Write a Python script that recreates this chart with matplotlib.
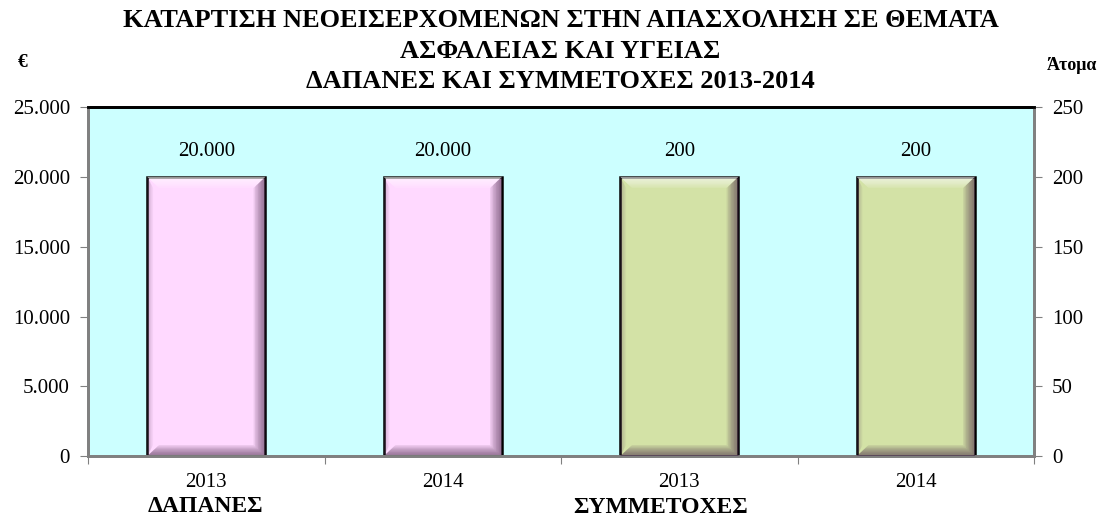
import matplotlib
matplotlib.use('Agg')
import matplotlib.pyplot as plt
from matplotlib.patches import Polygon

plt.rcParams['font.family'] = ['Liberation Serif', 'DejaVu Serif']

# data
cats = ['2013', '2014', '2013', '2014']
dapanes = [20000, 20000]      # euro
symmetoxes = [200, 200]       # persons
groups = ['ΔΑΠΑΝΕΣ', 'ΣΥΜΜΕΤΟΧΕΣ']
title = ('ΚΑΤΑΡΤΙΣΗ ΝΕΟΕΙΣΕΡΧΟΜΕΝΩΝ ΣΤΗΝ ΑΠΑΣΧΟΛΗΣΗ ΣΕ ΘΕΜΑΤΑ\n'
         'ΑΣΦΑΛΕΙΑΣ ΚΑΙ ΥΓΕΙΑΣ\nΔΑΠΑΝΕΣ ΚΑΙ ΣΥΜΜΕΤΟΧΕΣ 2013-2014')
left_ticks = [0, 5000, 10000, 15000, 20000, 25000]
right_ticks = [0, 50, 100, 150, 200, 250]

pink = '#FFD9FF'
green = '#D3E2A6'
gray = '#808080'


def fmt(v):
    return '{:,}'.format(v).replace(',', '.')


def bevel(ax, x, w, h, ymax):
    # fake 3d bevel made of stacked translucent bands
    bx = 0.05
    by = 0.032 * ymax
    n = 8
    for i in range(n):
        f = (i + 1) / n
        a = 0.11
        # top highlight
        ax.add_patch(Polygon([(x - w/2, h), (x + w/2, h), (x + w/2 - bx*f, h - by*f),
                              (x - w/2 + bx*f, h - by*f)], closed=True,
                             facecolor='white', edgecolor='none', alpha=a, zorder=3))
        # right shadow
        ax.add_patch(Polygon([(x + w/2, h), (x + w/2, 0), (x + w/2 - bx*f, by*f),
                              (x + w/2 - bx*f, h - by*f)], closed=True,
                             facecolor='#4a2a4a', edgecolor='none', alpha=a*0.9, zorder=3))
        # bottom shadow
        ax.add_patch(Polygon([(x - w/2, 0), (x + w/2, 0), (x + w/2 - bx*f, by*f),
                              (x - w/2 + bx*f, by*f)], closed=True,
                             facecolor='#4a2a4a', edgecolor='none', alpha=a*0.9, zorder=3))
        # left soft edge
        ax.add_patch(Polygon([(x - w/2, h), (x - w/2, 0), (x - w/2 + bx*f*0.5, by*f),
                              (x - w/2 + bx*f*0.5, h - by*f)], closed=True,
                             facecolor='#6a4a6a', edgecolor='none', alpha=a*0.4, zorder=3))


fig = plt.figure(figsize=(11.1, 5.22), dpi=100)
ax = fig.add_axes([0.0793, 0.126, 0.8523, 0.669])
ax2 = ax.twinx()

ax.set_facecolor('#CCFFFF')
ax.set_xlim(0, 4)
ax.set_ylim(0, 25000)
ax2.set_ylim(0, 250)

w = 0.5
xs1 = [0.5, 1.5]
xs2 = [2.5, 3.5]
ax.bar(xs1, dapanes, width=w, color=pink, edgecolor='black', linewidth=1.8, zorder=2)
ax2.bar(xs2, symmetoxes, width=w, color=green, edgecolor='black', linewidth=1.8, zorder=2)
for x, v in zip(xs1, dapanes):
    bevel(ax, x, w, v, 25000)
    ax.text(x, v + 1100, fmt(v), ha='center', va='bottom', fontsize=15)
for x, v in zip(xs2, symmetoxes):
    bevel(ax2, x, w, v, 250)
    ax2.text(x, v + 11, fmt(v), ha='center', va='bottom', fontsize=15)

ax.set_yticks(left_ticks)
ax.set_yticklabels([fmt(t) for t in left_ticks], fontsize=15)
ax2.set_yticks(right_ticks)
ax2.set_yticklabels([str(t) for t in right_ticks], fontsize=15)

ax.set_xticks([0, 1, 2, 3, 4])
ax.set_xticklabels([])
ax.set_xticks([0.5, 1.5, 2.5, 3.5], minor=True)
ax.set_xticklabels(cats, minor=True, fontsize=15)
ax.tick_params(axis='x', which='minor', length=0, pad=12)
ax.tick_params(axis='x', which='major', length=6, color=gray, direction='out')
ax.tick_params(axis='y', length=6, color=gray, pad=7)
ax2.tick_params(axis='y', length=6, color=gray, pad=7)

for a in (ax, ax2):
    a.spines['left'].set_color(gray)
    a.spines['right'].set_color(gray)
    a.spines['bottom'].set_color(gray)
    a.spines['top'].set_color('black')
    for s in a.spines.values():
        s.set_linewidth(2)

fig.text(0.505, 0.982, title, ha='center', va='top', fontsize=19,
         fontweight='bold', linespacing=1.4)
fig.text(0.016, 0.88, '€', fontsize=14, fontweight='bold', ha='left', va='center')
fig.text(0.966, 0.874, 'Άτομα', fontsize=13, fontweight='bold', ha='center', va='center')
fig.text(0.185, 0.03, groups[0], fontsize=17, fontweight='bold', ha='center', va='center')
fig.text(0.595, 0.027, groups[1], fontsize=17, fontweight='bold', ha='center', va='center')

fig.savefig('out.png', dpi=100)
